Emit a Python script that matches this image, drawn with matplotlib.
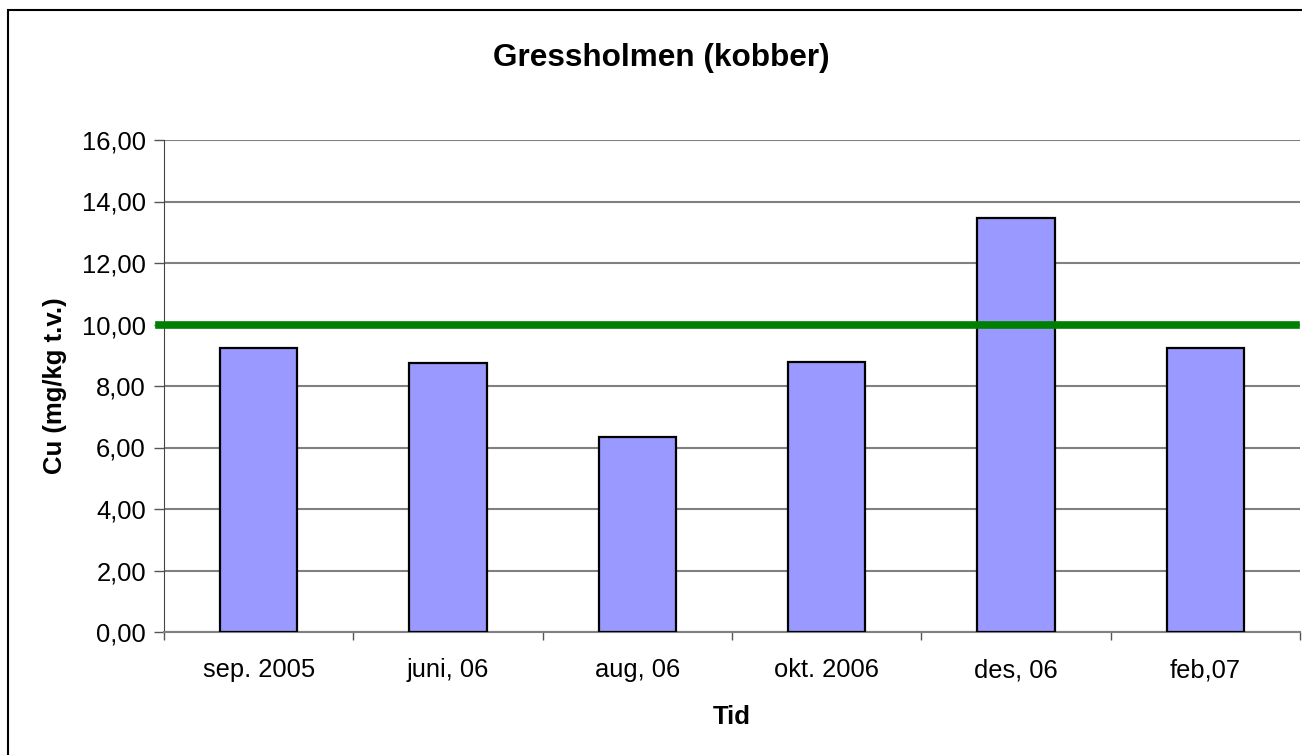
# Gressholmen (kobber) - stolpediagram med grenseverdi
import matplotlib.pyplot as plt
from matplotlib.patches import Rectangle
from matplotlib.ticker import FuncFormatter, MultipleLocator

plt.rcParams['font.family'] = ['Liberation Sans', 'DejaVu Sans']

# Data
kategorier = ['sep. 2005', 'juni, 06', 'aug, 06', 'okt. 2006', 'des, 06', 'feb,07']
cu_verdier = [9.23, 8.74, 6.33, 8.79, 13.47, 9.25]
grenseverdi = 10.0

fig = plt.figure(figsize=(13.02, 7.55), dpi=100)
ax = fig.add_axes([164 / 1302, 123 / 755, 1136 / 1302, 492 / 755])

x = range(len(kategorier))
ax.bar(x, cu_verdier, width=0.41, color='#9999FF', edgecolor='black',
       linewidth=1.6, zorder=3)

# Grenselinje (gronn)
ax.axhline(grenseverdi, xmin=-0.004, xmax=0.9965, color='#008000',
           linewidth=5.5, zorder=4, clip_on=False)

ax.set_xlim(-0.5, len(kategorier) - 0.5)
ax.set_ylim(0, 16)
ax.yaxis.set_major_locator(MultipleLocator(2))
ax.yaxis.set_major_formatter(FuncFormatter(lambda v, p: f'{v:.2f}'.replace('.', ',')))

ax.set_xticks(list(x))
ax.set_xticklabels(kategorier)
ax.set_xticks([i - 0.5 for i in range(len(kategorier) + 1)], minor=True)
ax.tick_params(axis='x', which='major', length=0, pad=19, labelsize=18.4)
ax.tick_params(axis='x', which='minor', length=6, width=1, color='#555555')
ax.tick_params(axis='y', length=7, width=1, color='#555555', pad=6, labelsize=18.4)

ax.grid(axis='y', color='#808080', linewidth=1.5, zorder=0)
ax.set_axisbelow(True)

for side in ['top', 'right']:
    ax.spines[side].set_visible(False)
ax.spines['left'].set_color('#444444')
ax.spines['bottom'].set_color('#808080')
ax.spines['bottom'].set_linewidth(1.5)

# tittel sentrert over hele diagrammet, ikke over plottet
ax.set_title('Gressholmen (kobber)', fontsize=22.7, fontweight='bold', pad=53,
             x=0.438)
ax.set_xlabel('Tid', fontsize=18.5, fontweight='bold', labelpad=16)
ax.set_ylabel('Cu (mg/kg t.v.)', fontsize=18.5, fontweight='bold', labelpad=11)

# Ramme rundt hele diagrammet
fig.patches.append(Rectangle((8 / 1302, -0.1), 1.2, 1.1 - 10 / 755,
                             transform=fig.transFigure, fill=False,
                             edgecolor='black', linewidth=1.5))

fig.savefig('out.png', dpi=100)
